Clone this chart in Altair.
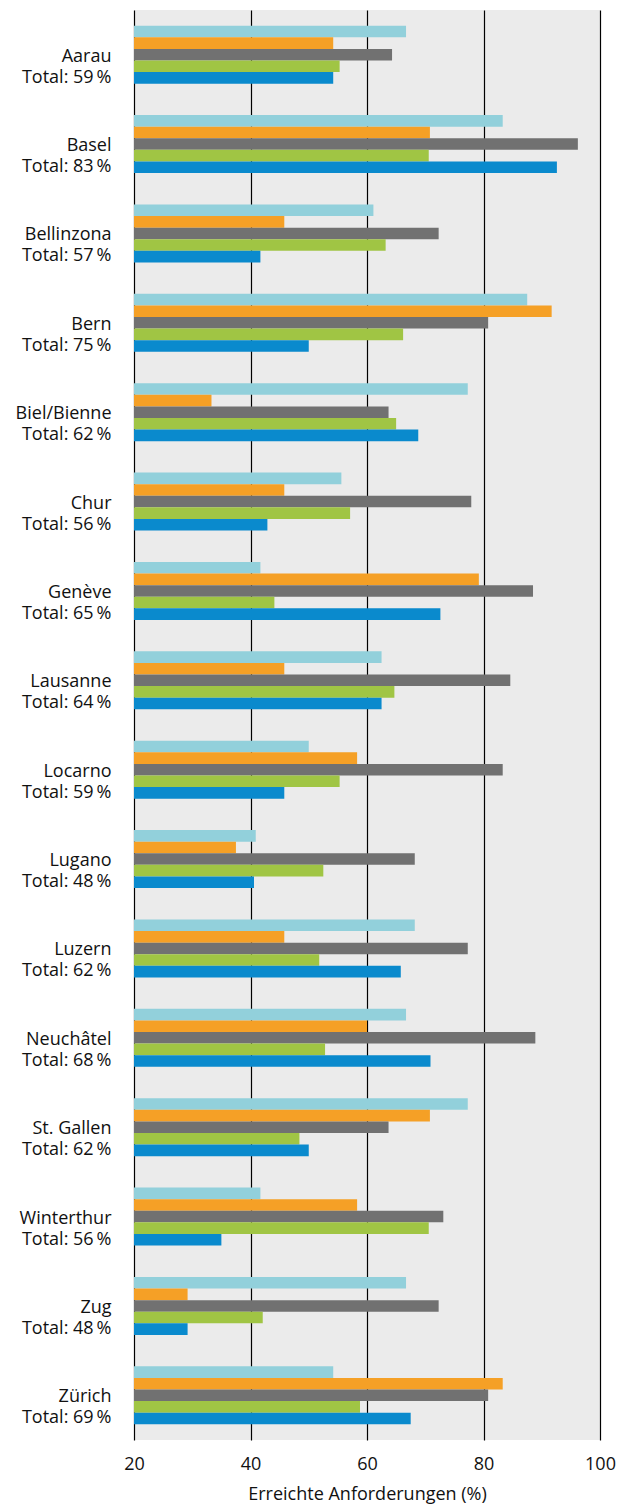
import altair as alt
import pandas as pd

cities = ["Aarau", "Basel", "Bellinzona", "Bern", "Biel/Bienne", "Chur", "Genève",
          "Lausanne", "Locarno", "Lugano", "Luzern", "Neuchâtel", "St. Gallen",
          "Winterthur", "Zug", "Zürich"]
totals = [59, 83, 57, 75, 62, 56, 65, 64, 59, 48, 62, 68, 62, 56, 48, 69]

series = ["Serie 1", "Serie 2", "Serie 3", "Serie 4", "Serie 5"]
colors = ["#92D0DB", "#F5A026", "#717171", "#A0C544", "#0A8ACD"]

s1 = [66.7, 83.3, 61.1, 87.5, 77.3, 55.6, 41.7, 62.5, 50.0, 40.9, 68.2, 66.7, 77.3, 41.7, 66.7, 54.2]
s2 = [54.2, 70.8, 45.8, 91.7, 33.3, 45.8, 79.2, 45.8, 58.3, 37.5, 45.8, 60.0, 70.8, 58.3, 29.2, 83.3]
s3 = [64.3, 96.2, 72.3, 80.8, 63.7, 77.9, 88.5, 84.6, 83.3, 68.2, 77.3, 88.9, 63.7, 73.1, 72.3, 80.8]
s4 = [55.3, 70.6, 63.2, 66.2, 65.0, 57.1, 44.1, 64.7, 55.3, 52.5, 51.8, 52.8, 48.4, 70.6, 42.1, 58.8]
s5 = [54.2, 92.6, 41.7, 50.0, 68.8, 42.9, 72.6, 62.5, 45.8, 40.6, 65.8, 70.9, 50.0, 35.0, 29.2, 67.5]

rows = []
labels = []
for i, c in enumerate(cities):
    lab = f"{c}\nTotal: {totals[i]}\u2009%"
    labels.append(lab)
    for name, vals in zip(series, [s1, s2, s3, s4, s5]):
        rows.append({"Stadt": lab, "Serie": name, "Wert": vals[i]})
df = pd.DataFrame(rows)

FONT = "Open Sans"
FS = 18

chart = alt.Chart(df).mark_bar().encode(
    y=alt.Y("Stadt:N", sort=labels, title=None,
            scale=alt.Scale(paddingInner=0.35, paddingOuter=0.175),
            axis=alt.Axis(labelExpr="split(datum.label, '\\n')", labelFontSize=FS,
                          labelLineHeight=21, labelPadding=23, labelOffset=2, ticks=False,
                          domain=False, grid=False, labelColor="#111111",
                          labelFont=FONT, labelLimit=200)),
    yOffset=alt.YOffset("Serie:N", sort=series, scale=alt.Scale(paddingInner=0, paddingOuter=0)),
    x=alt.X("Wert:Q", scale=alt.Scale(domain=[20, 100], zero=False, nice=False),
            title="Erreichte Anforderungen (%)",
            axis=alt.Axis(values=[20, 40, 60, 80, 100], grid=True, gridColor="#000000",
                          gridWidth=1.2, gridOpacity=1, ticks=False, domain=False,
                          labelFlush=False, labelOverlap=False,
                          labelFontSize=FS, labelPadding=15, labelFont=FONT,
                          labelColor="#111111", titleFont=FONT, titleFontSize=FS,
                          titleFontWeight="normal", titleColor="#111111", titlePadding=12)),
    x2=alt.datum(20),
    color=alt.Color("Serie:N", sort=series, scale=alt.Scale(domain=series, range=colors), legend=None),
).properties(
    width=466, height=1430,
    padding={"left": 126, "top": 2, "right": 17, "bottom": 68},
    autosize=alt.AutoSizeParams(type="none"),
).configure_view(fill="#EBEBEB", stroke=None)

chart.save("out.html", embed_options={"renderer": "svg", "actions": False})
